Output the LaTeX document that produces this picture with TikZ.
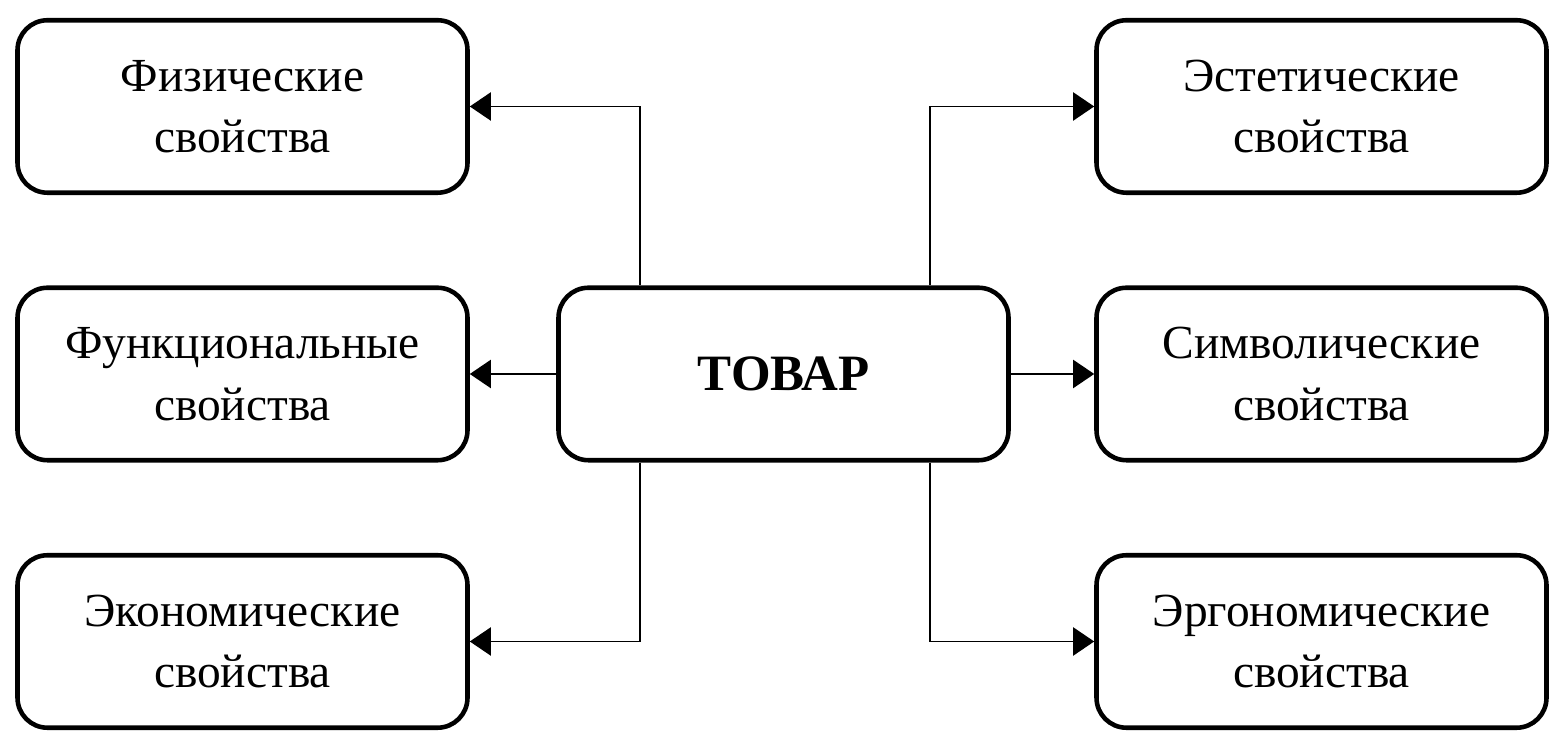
\documentclass[tikz,border=0pt]{standalone}
\usepackage{fontspec}
\setmainfont{Liberation Serif}
\usepackage{tikz}
\usetikzlibrary{arrows.meta}

\begin{document}
\begin{tikzpicture}[
    box/.style={draw,rounded corners=0.6cm,line width=2.6pt,minimum width=9.0cm,minimum height=3.45cm,align=center,font=\fontsize{27}{35}\selectfont},
    conn/.style={line width=1.1pt,-{Triangle[length=12pt,width=16pt]}}]
    \useasboundingbox (0,0) rectangle (31,14.62);
    \node[box] (tovar) at (15.67,7.14) {\fontsize{29}{35}\selectfont\bfseries ТОВАР};
    \node[box] (fiz) at (4.85,12.49) {Физические\\свойства};
    \node[box] (func) at (4.85,7.14) {Функциональные\\свойства};
    \node[box] (econ) at (4.85,1.79) {Экономические\\свойства};
    \node[box] (est) at (26.43,12.49) {Эстетические\\свойства};
    \node[box] (sym) at (26.43,7.14) {Символические\\свойства};
    \node[box] (erg) at (26.43,1.79) {Эргономические\\свойства};
    \coordinate (lx) at (12.8,0);
    \coordinate (rx) at (18.6,0);
    \draw[conn] (lx |- tovar.north) |- (fiz.east);
    \draw[conn] (tovar.west) to (func.east);
    \draw[conn] (lx |- tovar.south) |- (econ.east);
    \draw[conn] (rx |- tovar.north) |- (est.west);
    \draw[conn] (tovar.east) to (sym.west);
    \draw[conn] (rx |- tovar.south) |- (erg.west);
\end{tikzpicture}
\end{document}
